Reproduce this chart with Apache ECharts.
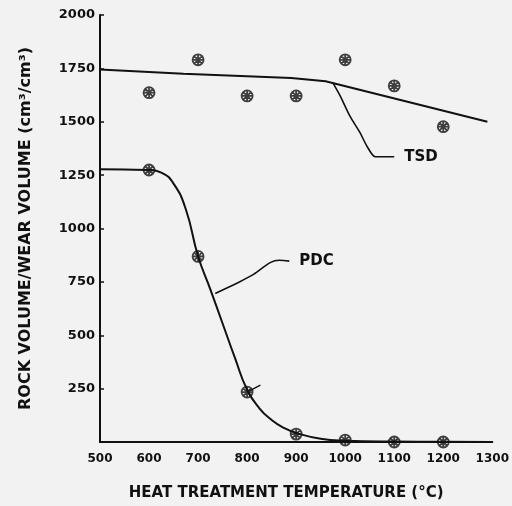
<!DOCTYPE html>
<html>
<head>
<meta charset="utf-8">
<script src="https://cdn.jsdelivr.net/npm/echarts@6/dist/echarts.min.js"></script>
<style>
html,body{margin:0;padding:0;background:#f2f2f2;}
#chart{width:512px;height:506px;}
</style>
</head>
<body>
<div id="chart"></div>
<script>
// X-axis tick labels (°C) and Y-axis ticks
const xTicks = [500, 600, 700, 800, 900, 1000, 1100, 1200, 1300];
const yTicks = [0, 250, 500, 750, 1000, 1250, 1500, 1750, 2000];

// TSD measured points
const tsdTemps = [600, 700, 800, 900, 1000, 1100, 1200];
const tsdValues = [1636, 1790, 1621, 1621, 1790, 1668, 1477];
// TSD fitted line
const tsdFitTemps = [500, 670, 890, 960, 1290];
const tsdFitValues = [1745, 1725, 1705, 1690, 1500];

// PDC measured points
const pdcTemps = [600, 700, 800, 900, 1000, 1100, 1200];
const pdcValues = [1274, 869, 234, 37, 9, 0, 0];
// PDC fitted curve
const pdcFitTemps = [500, 550, 600, 625, 650, 675, 700, 725, 750, 775, 800, 825, 850, 875, 900, 950, 1000, 1100, 1200, 1300];
const pdcFitValues = [1278, 1276, 1274, 1262, 1210, 1090, 870, 715, 555, 395, 245, 158, 103, 66, 42, 15, 6, 2, 1, 0];

// Annotation leader lines
const tsdLeaderTemps = [975, 990, 1010, 1030, 1045, 1062, 1100];
const tsdLeaderValues = [1682, 1620, 1525, 1450, 1383, 1336, 1336];
const pdcLeaderTemps = [735, 781, 813, 847, 866, 886];
const pdcLeaderValues = [696, 746, 785, 840, 851, 847];
const pdcTickTemps = [800, 827];
const pdcTickValues = [234, 266];

const zip = (a, b) => a.map((v, i) => [v, b[i]]);
const ink = '#111';
const marker = 'path://M10,5A5,5,0,1,1,0,5A5,5,0,1,1,10,5ZM1.6,1.6L8.4,8.4M8.4,1.6L1.6,8.4M5,0L5,10M0,5L10,5';
const annoFont = { color: ink, fontFamily: 'DejaVu Sans', fontWeight: 'bold', fontSize: 15 };

const chart = echarts.init(document.getElementById('chart'));
chart.setOption({
  backgroundColor: '#f2f2f2',
  animation: false,
  grid: { left: 100, right: 18, top: 15, bottom: 63 },
  xAxis: {
    type: 'value',
    min: xTicks[0], max: xTicks[xTicks.length - 1], interval: 100,
    name: 'HEAT TREATMENT TEMPERATURE (°C)',
    nameLocation: 'middle', nameGap: 44,
    nameTextStyle: { color: ink, fontFamily: 'DejaVu Sans', fontWeight: 'bold', fontSize: 15, padding: [0, 20, 0, 0] },
    axisLine: { lineStyle: { color: ink, width: 2 } },
    axisTick: { show: false },
    splitLine: { show: false },
    axisLabel: { color: ink, fontFamily: 'DejaVu Sans', fontWeight: 'bold', fontSize: 12, margin: 11,
      formatter: v => String(v) }
  },
  yAxis: {
    type: 'value',
    min: yTicks[0], max: yTicks[yTicks.length - 1], interval: 250,
    name: 'ROCK VOLUME/WEAR VOLUME (cm³/cm³)',
    nameLocation: 'middle', nameGap: 66, nameRotate: 90,
    nameTextStyle: { color: ink, fontFamily: 'DejaVu Sans', fontWeight: 'bold', fontSize: 16 },
    axisLine: { show: true, lineStyle: { color: ink, width: 2 } },
    axisTick: { show: true, inside: true, length: 4, lineStyle: { color: ink, width: 1.5 } },
    splitLine: { show: false },
    axisLabel: {
      color: ink, fontFamily: 'DejaVu Sans', fontWeight: 'bold', fontSize: 13, margin: 5,
      formatter: v => (v === 0 ? '' : String(v))
    }
  },
  series: [
    {
      type: 'line', data: zip(tsdFitTemps, tsdFitValues), symbol: 'none',
      lineStyle: { color: ink, width: 2 }, silent: true
    },
    {
      type: 'line', data: zip(pdcFitTemps, pdcFitValues), symbol: 'none',
      smooth: 0.5,
      lineStyle: { color: ink, width: 2 }, silent: true
    },
    {
      type: 'line', data: zip(tsdLeaderTemps, tsdLeaderValues), symbol: 'none', smooth: 0.3,
      lineStyle: { color: ink, width: 1.6 },
      endLabel: Object.assign({ show: true, formatter: 'TSD', distance: 10 }, annoFont)
    },
    {
      type: 'line', data: zip(pdcLeaderTemps, pdcLeaderValues), symbol: 'none', smooth: 0.3,
      lineStyle: { color: ink, width: 1.6 },
      endLabel: Object.assign({ show: true, formatter: 'PDC', distance: 10 }, annoFont)
    },
    {
      type: 'line', data: zip(pdcTickTemps, pdcTickValues), symbol: 'none',
      lineStyle: { color: ink, width: 1.4 }
    },
    {
      type: 'scatter', data: zip(tsdTemps, tsdValues), symbol: marker, symbolSize: 11,
      itemStyle: { color: 'rgba(0,0,0,0)', borderColor: ink, borderWidth: 1.8 }
    },
    {
      type: 'scatter', data: zip(pdcTemps, pdcValues), symbol: marker, symbolSize: 11,
      itemStyle: { color: 'rgba(0,0,0,0)', borderColor: ink, borderWidth: 1.8 }
    }
  ]
});
</script>
</body>
</html>
